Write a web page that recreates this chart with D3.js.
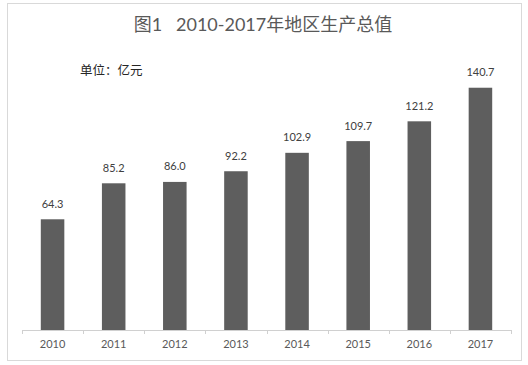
<!DOCTYPE html>
<html>
<head>
<meta charset="utf-8">
<script src="https://cdn.jsdelivr.net/npm/d3@7"></script>
<style>
  body { margin: 0; background: #fff; }
  svg text { font-family: Lato, "Noto Sans CJK SC", sans-serif; }
</style>
</head>
<body>
<div id="viz"></div>
<script>
(function() {

var years = ["2010", "2011", "2012", "2013", "2014", "2015", "2016", "2017"];
var gdp = [64.3, 85.2, 86.0, 92.2, 102.9, 109.7, 121.2, 140.7];
var yMax = 160;

var width = 528, height = 365;
var left = 22, right = 511, base = 330, top = 54.5;

var svg = d3.select("#viz")
    .append("svg")
    .attr("width", width)
    .attr("height", height);

// chart frame
svg.append("rect")
    .attr("x", 7.5)
    .attr("y", 3.5)
    .attr("width", 514)
    .attr("height", 357)
    .style("fill", "white")
    .style("stroke", "#d9d9d9");

var x = d3.scaleBand()
    .domain(years)
    .range([left, right])
    .paddingInner(0.615)
    .paddingOuter(0.3075);

var y = d3.scaleLinear()
    .domain([0, yMax])
    .range([base, top]);

var data = years.map(function(d, i) { return {year: d, value: gdp[i]}; });

svg.selectAll("rect.bar")
    .data(data)
    .enter().append("rect")
    .attr("class", "bar")
    .attr("x", function(d) { return x(d.year); })
    .attr("width", x.bandwidth())
    .attr("y", function(d) { return y(d.value); })
    .attr("height", function(d) { return base - y(d.value); })
    .style("fill", "#5e5e5e");

svg.selectAll("text.lbl")
    .data(data)
    .enter().append("text")
    .attr("class", "lbl")
    .attr("x", function(d) { return x(d.year) + x.bandwidth() / 2; })
    .attr("y", function(d) { return y(d.value) - 11.5; })
    .attr("text-anchor", "middle")
    .style("font-size", "11px")
    .style("fill", "#404040")
    .text(function(d) { return d.value.toFixed(1); });

// x axis with ticks between categories
var step = x.step();
var tickPos = d3.range(years.length + 1).map(function(i) { return left + i * step; });

svg.append("line")
    .attr("x1", left).attr("x2", right)
    .attr("y1", base + 0.5).attr("y2", base + 0.5)
    .style("stroke", "#d0d0d0");

svg.selectAll("line.tick")
    .data(tickPos)
    .enter().append("line")
    .attr("class", "tick")
    .attr("x1", function(d) { return Math.round(d) + 0.5; })
    .attr("x2", function(d) { return Math.round(d) + 0.5; })
    .attr("y1", base)
    .attr("y2", base + 4)
    .style("stroke", "#d0d0d0");

svg.selectAll("text.year")
    .data(years)
    .enter().append("text")
    .attr("class", "year")
    .attr("x", function(d) { return x(d) + x.bandwidth() / 2; })
    .attr("y", 348)
    .attr("text-anchor", "middle")
    .style("font-size", "11px")
    .style("fill", "#595959")
    .text(function(d) { return d; });

svg.append("text")
    .attr("x", 263)
    .attr("y", 31)
    .attr("text-anchor", "middle")
    .style("font-size", "18px")
    .style("fill", "#595959")
    .text("图1\u00a0\u00a0\u00a02010-2017年地区生产总值");

svg.append("text")
    .attr("x", 80)
    .attr("y", 75)
    .style("font-size", "12.5px")
    .style("fill", "#262626")
    .text("单位：亿元");

})();
</script>
</body>
</html>
